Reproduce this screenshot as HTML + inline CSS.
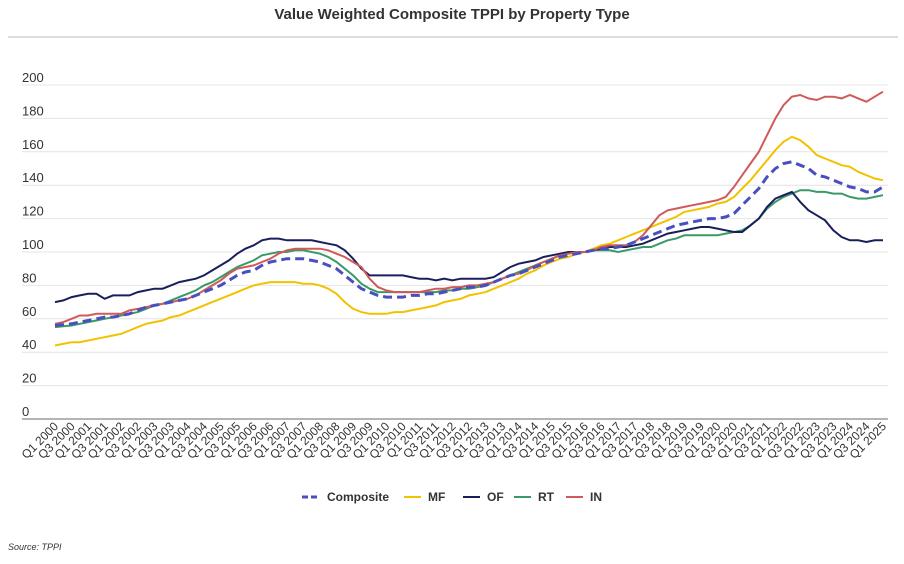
<!DOCTYPE html>
<html><head><meta charset="utf-8"><style>
body{margin:0;background:#fff;font-family:"Liberation Sans",sans-serif;}
svg text{font-family:"Liberation Sans",sans-serif;}
</style></head><body>
<svg id="chart" width="904" height="559" xmlns="http://www.w3.org/2000/svg">
<text x="452" y="19" text-anchor="middle" font-size="15" font-weight="bold" fill="#333">Value Weighted Composite TPPI by Property Type</text>
<rect x="8" y="36" width="890" height="2" fill="#ddd"/>
<g id="grid"></g><g id="series"></g><g id="xlabels"></g>
<g font-size="12" font-weight="bold" fill="#333">
<g><line x1="302" y1="497" x2="320" y2="497" stroke="#4a4fc0" stroke-width="3" stroke-dasharray="6,3"/><text x="327" y="501">Composite</text></g>
<g><line x1="404" y1="497" x2="421" y2="497" stroke="#f2c200" stroke-width="2"/><text x="428" y="501">MF</text></g>
<g><line x1="463" y1="497" x2="480" y2="497" stroke="#1a1f5c" stroke-width="2"/><text x="487" y="501">OF</text></g>
<g><line x1="514" y1="497" x2="531" y2="497" stroke="#3a9a66" stroke-width="2"/><text x="538" y="501">RT</text></g>
<g><line x1="566" y1="497" x2="583" y2="497" stroke="#d05a5a" stroke-width="2"/><text x="590" y="501">IN</text></g>
</g>
<text x="8" y="550" font-size="9" font-style="italic" fill="#333">Source: TPPI</text>
</svg>
<script>
const yTicks=[0,20,40,60,80,100,120,140,160,180,200];
const composite=[56,56.5,57,58,59,60,61,61,62,63,65,67,68,69,70,71,72,74,76,78,80,83,86,88,89,92,94,95,96,96,96,95,94,92,90,86,82,78,76,74,73,73,73,74,74,75,75,76,77,78,79,79,80,82,84,86,87,89,91,93,95,97,98,99,100,101,102,102,103,104,106,108,110,112,114,116,117,118,119,120,120,121,123,128,133,138,145,150,153,154,152,150,146,145,143,141,139,138,136,136,139];
const mf=[44,45,46,46,47,48,49,50,51,53,55,57,58,59,61,62,64,66,68,70,72,74,76,78,80,81,82,82,82,82,81,81,80,78,75,70,66,64,63,63,63,64,64,65,66,67,68,70,71,72,74,75,76,78,80,82,84,87,89,92,94,96,97,99,100,102,104,105,107,109,111,113,115,117,119,121,124,125,126,127,129,130,133,138,143,149,155,161,166,169,167,163,158,156,154,152,151,148,146,144,143];
const of=[70,71,73,74,75,75,72,74,74,74,76,77,78,78,80,82,83,84,86,89,92,95,99,102,104,107,108,108,107,107,107,107,106,105,104,101,96,90,86,86,86,86,86,85,84,84,83,84,83,84,84,84,84,85,88,91,93,94,95,97,98,99,100,100,100,101,102,103,103,103,104,105,107,109,111,112,113,114,115,115,114,113,112,112,116,120,127,132,134,136,130,125,122,119,113,109,107,107,106,107,107];
const rt=[55,55.5,56,57,58,59,60,61,62,63,64,66,68,69,71,73,75,77,80,82,85,88,91,93,95,98,99,100,100,101,101,100,99,97,94,90,86,81,78,76,76,76,76,76,76,76,76,77,77,78,78,79,80,82,84,86,88,90,92,94,96,98,99,100,100,101,101,101,100,101,102,103,103,105,107,108,110,110,110,110,110,111,112,113,116,120,126,130,133,135,137,137,136,136,135,135,133,132,132,133,134];
const ind=[57,58,60,62,62,63,63,63,63,65,66,67,68,69,70,71,72,74,77,80,83,87,90,91,92,94,96,99,101,102,102,102,102,101,99,97,94,91,84,79,77,76,76,76,76,77,78,78,79,79,80,80,81,82,84,86,87,89,92,94,96,98,99,100,100,101,103,104,104,104,106,110,116,122,125,126,127,128,129,130,131,133,139,146,153,160,170,180,188,193,194,192,191,193,193,192,194,192,190,193,196];
const quarterLabels=[];
for(let y=2000;y<=2025;y++){quarterLabels.push('Q1 '+y);if(y<2025)quarterLabels.push('Q3 '+y);}
const NS='http://www.w3.org/2000/svg';
const x=i=>55+i*(828/(composite.length-1));
const y=v=>419-v*1.67;
const grid=document.getElementById('grid');
yTicks.forEach(t=>{
 const l=document.createElementNS(NS,'line');
 l.setAttribute('x1',22);l.setAttribute('x2',888);l.setAttribute('y1',y(t));l.setAttribute('y2',y(t));
 l.setAttribute('stroke',t===0?'#888':'#e4e4e4');l.setAttribute('stroke-width',t===0?1.2:1);
 
 
 grid.appendChild(l);
 const tx=document.createElementNS(NS,'text');
 tx.setAttribute('x',22);tx.setAttribute('y',y(t)-3);tx.setAttribute('font-size','13');tx.setAttribute('fill','#333');
 tx.textContent=t;
 
 
 grid.appendChild(tx);
});
const sg=document.getElementById('series');
[[rt,'#3a9a66','rt',null],[of,'#1a1f5c','of',null],[mf,'#f2c200','mf',null],[ind,'#d05a5a','in',null],[composite,'#4a4fc0','composite','9,5']].forEach(([d,c,n,dash])=>{
 const p=document.createElementNS(NS,'path');
 p.setAttribute('d',d.map((v,i)=>(i?'L':'M')+x(i).toFixed(1)+','+y(v).toFixed(1)).join(''));
 p.setAttribute('fill','none');p.setAttribute('stroke',c);p.setAttribute('stroke-width',dash?3:2);
 if(dash)p.setAttribute('stroke-dasharray',dash);
 
 
 sg.appendChild(p);
});
const xl=document.getElementById('xlabels');
quarterLabels.forEach((s,k)=>{
 const px=x(k*2)+4,py=427;
 const t=document.createElementNS(NS,'text');
 t.setAttribute('x',px);t.setAttribute('y',py);t.setAttribute('text-anchor','end');
 t.setAttribute('font-size','12');t.setAttribute('fill','#333');
 t.setAttribute('transform','rotate(-45 '+px+' '+py+')');
 t.textContent=s;
 
 
 xl.appendChild(t);
});
</script>
</body></html>
